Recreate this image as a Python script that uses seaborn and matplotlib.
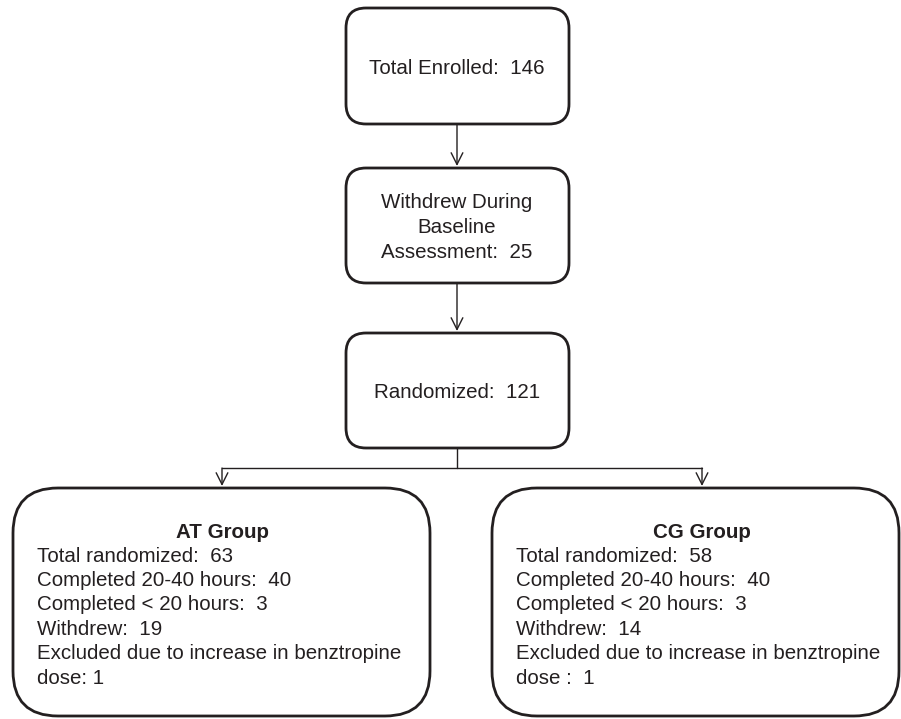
import matplotlib
matplotlib.use("Agg")
import matplotlib.pyplot as plt
import seaborn as sns
from matplotlib.patches import FancyBboxPatch

# flow steps down the middle
step_labels = ["Total Enrolled", "Withdrew During\nBaseline\nAssessment", "Randomized"]
step_counts = [146, 25, 121]

# the two arms
group_names = ["AT Group", "CG Group"]
item_labels = ["Total randomized", "Completed 20-40 hours", "Completed < 20 hours", "Withdrew"]
at_counts = [63, 40, 3, 19]
cg_counts = [58, 40, 3, 14]
last_line = ["Excluded due to increase in benztropine\ndose: 1",
             "Excluded due to increase in benztropine\ndose :  1"]

sns.set_theme(style="white")
plt.rcParams['font.family'] = ['Liberation Sans', 'DejaVu Sans']

ink = "#231f20"
fs = 14.8

fig = plt.figure(figsize=(9.01, 7.19), dpi=100)
ax = fig.add_axes([0, 0, 1, 1])
ax.set_xlim(0, 901)
ax.set_ylim(719, 0)
ax.axis("off")


def box(x0, y0, x1, y1, r):
    p = FancyBboxPatch((x0, y0), x1 - x0, y1 - y0,
                       boxstyle=f"round,pad=0,rounding_size={r}",
                       fc="white", ec=ink, lw=2.0)
    ax.add_patch(p)


def arrow(x, y0, y1):
    ax.annotate("", xy=(x, y1), xytext=(x, y0),
                arrowprops=dict(arrowstyle="->,head_length=0.7,head_width=0.35",
                                color=ink, lw=1.0, shrinkA=0, shrinkB=0))


# central column
cx = 457
tops = [8, 168, 333]
bots = [124, 283, 448]
for i in range(len(step_labels)):
    box(346, tops[i], 569, bots[i], 20)
    ax.text(cx, (tops[i] + bots[i]) / 2 + 2, f"{step_labels[i]}:  {step_counts[i]}",
            ha="center", va="center", fontsize=fs, color=ink, linespacing=1.38)
    if i < len(step_labels) - 1:
        arrow(cx, bots[i], tops[i + 1] - 2)

# split to the two arms
ax.plot([cx, cx], [448, 468], color=ink, lw=1.0)
ax.plot([222, 702], [468, 468], color=ink, lw=1.0)
arrow(222, 468, 486)
arrow(702, 468, 486)

lefts = [13, 492]
rights = [430, 899]
centers = [222, 702]
for g, counts in enumerate([at_counts, cg_counts]):
    box(lefts[g], 488, rights[g], 716, 45)
    ax.text(centers[g], 532, group_names[g], ha="center", va="center",
            fontsize=fs, fontweight="bold", color=ink)
    lines = [f"{item_labels[k]}:  {counts[k]}" for k in range(len(item_labels))]
    lines += last_line[g].split("\n")
    for k, line in enumerate(lines):
        ax.text(lefts[g] + 24, 556 + k * 24.4, line, ha="left", va="center",
                fontsize=fs, color=ink)

fig.savefig("out.png", dpi=100)
